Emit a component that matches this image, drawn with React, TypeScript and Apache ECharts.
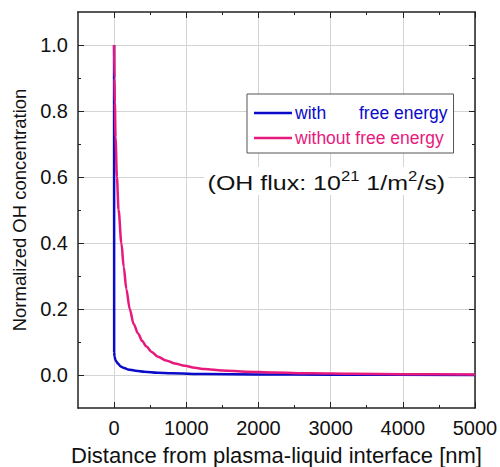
import React, { useEffect, useRef } from "react";
import * as echarts from "echarts";

const withFreeEnergy: [number, number][] = [
  [0, 1.0], [1, 0.07], [7, 0.055], [20, 0.045], [35, 0.04], [52, 0.035],
  [90, 0.026], [140, 0.021], [190, 0.017], [300, 0.013], [420, 0.01],
  [600, 0.007], [790, 0.005], [1250, 0.003], [2000, 0.0015], [3000, 0.0008],
  [5000, 0.0003],
];

const withoutFreeEnergy: [number, number][] = [
  [0, 1.0], [5, 0.9], [10, 0.826], [20, 0.72], [39, 0.6], [62, 0.5],
  [101, 0.4], [134, 0.327], [170, 0.26], [217, 0.2], [270, 0.155],
  [332, 0.126], [390, 0.103], [448, 0.086], [520, 0.07], [609, 0.055],
  [720, 0.044], [840, 0.035], [980, 0.028], [1116, 0.022], [1253, 0.018],
  [1500, 0.014], [1823, 0.01], [2200, 0.0075], [2740, 0.005], [3300, 0.0035],
  [4000, 0.0025], [5000, 0.0015],
];

const xMajor = [0, 1000, 2000, 3000, 4000, 5000];
const xMinor = [500, 1500, 2500, 3500, 4500];
const yMajor = [0, 0.2, 0.4, 0.6, 0.8, 1.0];
const yMinor = [0.1, 0.3, 0.5, 0.7, 0.9];

const FONT = "Liberation Sans";
const BLUE = "#0a0ac8";
const PINK = "#e8197c";

export default function App() {
  const ref = useRef<HTMLDivElement>(null);
  useEffect(() => {
    if (!ref.current) return;
    const chart = echarts.init(ref.current, undefined, { renderer: "svg" });
    const lineStyle = { color: "#222", width: 1.5 };
    const xBase = { type: "value", min: -500, max: 5000 };
    const yBase = { type: "value", min: -0.1, max: 1.1 };
    const tickStyle = { color: "#222" };
    chart.setOption({
      animation: false,
      backgroundColor: "#fff",
      textStyle: { fontFamily: FONT },
      grid: { left: 78, top: 12, right: 25, bottom: 59, outerBoundsMode: "none", containLabel: false },
      xAxis: [
        {
          ...xBase,
          position: "bottom",
          name: "Distance from plasma-liquid interface [nm]",
          nameLocation: "middle",
          nameGap: 36,
          nameTextStyle: { fontSize: 22, color: "#111", fontFamily: FONT },
          axisLine: { show: true, onZero: false, lineStyle },
          axisTick: { show: true, inside: true, length: 6, customValues: xMajor, lineStyle: tickStyle },
          axisLabel: {
            show: true, customValues: xMajor, margin: 10, fontSize: 20, color: "#111", fontFamily: FONT,
            formatter: (v: number) => String(v),
          },
          splitLine: { show: true, lineStyle: { color: "#d4d4d4", width: 1 } },
        },
        {
          ...xBase,
          position: "top",
          axisLine: { show: true, onZero: false, lineStyle },
          axisTick: { show: true, inside: true, length: 6, customValues: xMajor, lineStyle: tickStyle },
          axisLabel: { show: false },
          splitLine: { show: false },
        },
        {
          ...xBase,
          position: "bottom",
          axisLine: { show: false, onZero: false },
          axisTick: { show: true, inside: true, length: 3, customValues: xMinor, lineStyle: tickStyle },
          axisLabel: { show: false },
          splitLine: { show: false },
        },
        {
          ...xBase,
          position: "top",
          axisLine: { show: false, onZero: false },
          axisTick: { show: true, inside: true, length: 3, customValues: xMinor, lineStyle: tickStyle },
          axisLabel: { show: false },
          splitLine: { show: false },
        },
      ],
      yAxis: [
        {
          ...yBase,
          position: "left",
          name: "Normalized OH concentration",
          nameLocation: "middle",
          nameGap: 47,
          nameTextStyle: { fontSize: 18.5, color: "#111", fontFamily: FONT },
          axisLine: { show: true, onZero: false, lineStyle },
          axisTick: { show: true, inside: true, length: 6, customValues: yMajor, lineStyle: tickStyle },
          axisLabel: {
            show: true, customValues: yMajor, margin: 10, fontSize: 20, color: "#111", fontFamily: FONT,
            formatter: (v: number) => v.toFixed(1),
          },
          splitLine: { show: true, lineStyle: { color: "#d4d4d4", width: 1 } },
        },
        {
          ...yBase,
          position: "right",
          axisLine: { show: true, onZero: false, lineStyle },
          axisTick: { show: true, inside: true, length: 6, customValues: yMajor, lineStyle: tickStyle },
          axisLabel: { show: false },
          splitLine: { show: false },
        },
        {
          ...yBase,
          position: "left",
          axisLine: { show: false, onZero: false },
          axisTick: { show: true, inside: true, length: 3, customValues: yMinor, lineStyle: tickStyle },
          axisLabel: { show: false },
          splitLine: { show: false },
        },
        {
          ...yBase,
          position: "right",
          axisLine: { show: false, onZero: false },
          axisTick: { show: true, inside: true, length: 3, customValues: yMinor, lineStyle: tickStyle },
          axisLabel: { show: false },
          splitLine: { show: false },
        },
      ],
      legend: {
        left: 247,
        top: 94,
        orient: "vertical",
        width: 208,
        padding: [10, 6, 6, 7],
        itemGap: 7,
        itemWidth: 38,
        itemHeight: 2.5,
        borderColor: "#555",
        borderWidth: 1,
        backgroundColor: "#fff",
        data: [
          { name: "with free energy", icon: "rect", textStyle: { color: BLUE } },
          { name: "without free energy", icon: "rect", textStyle: { color: PINK } },
        ],
        formatter: (name: string) =>
          name === "with free energy" ? "{a|with}{b|free energy}" : name,
        textStyle: {
          fontSize: 17.5,
          fontFamily: FONT,
          padding: [0, 0, 0, -2],
          rich: {
            a: { width: 64, fontSize: 17.5, fontFamily: FONT, color: BLUE },
            b: { fontSize: 17.5, fontFamily: FONT, color: BLUE },
          },
        },
      },
      graphic: [
        {
          type: "text",
          x: 204,
          y: 167,
          scaleX: 1.19,
          z: 100,
          style: {
            text: "{m|(OH flux: 10}{s|21}{m| 1/m}{s|2}{m|/s)}",
            fontSize: 21,
            fontFamily: FONT,
            fill: "#111",
            backgroundColor: "#fff",
            padding: [2, 3, 2, 3],
            rich: {
              m: { fontSize: 21, fontFamily: FONT, fill: "#111", lineHeight: 24, verticalAlign: "bottom" },
              s: { fontSize: 14, fontFamily: FONT, fill: "#111", lineHeight: 24, verticalAlign: "top" },
            },
          },
        },
      ],
      series: [
        {
          name: "with free energy",
          type: "line",
          data: withFreeEnergy,
          showSymbol: false,
          symbol: "none",
          smooth: 0.3,
          smoothMonotone: "x",
          lineStyle: { color: BLUE, width: 2.5 },
          itemStyle: { color: BLUE },
        },
        {
          name: "without free energy",
          type: "line",
          data: withoutFreeEnergy,
          showSymbol: false,
          symbol: "none",
          smooth: 0.3,
          smoothMonotone: "x",
          lineStyle: { color: PINK, width: 2.5 },
          itemStyle: { color: PINK },
        },
      ],
    });
    return () => chart.dispose();
  }, []);
  return <div ref={ref} style={{ width: 500, height: 467, position: "absolute", left: 0, top: 0 }} />;
}
